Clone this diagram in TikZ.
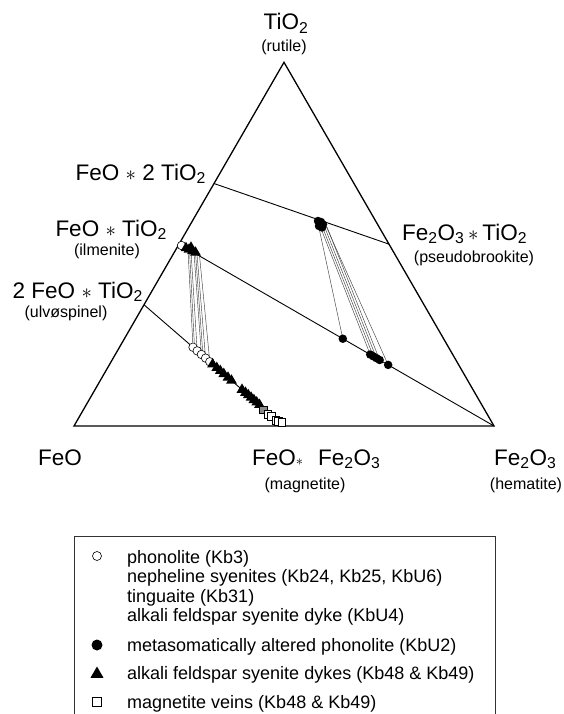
\documentclass[tikz,border=0pt]{standalone}
\usepackage{fontspec}
\setmainfont{Liberation Sans}
\usetikzlibrary{shapes.geometric,calc}
\newcommand{\dn}[1]{\textsubscript{#1}}
\newcommand{\mstar}{$\ast$}
\begin{document}
\begin{tikzpicture}[x=1pt,y=-1pt,
  big/.style={font=\fontsize{22.5}{26}\selectfont, inner sep=0pt},
  small/.style={font=\fontsize{16}{19}\selectfont, inner sep=0pt},
  leg/.style={font=\fontsize{18}{20}\selectfont, inner sep=0pt, anchor=base west},
  edgeline/.style={line width=1.3pt},
  joinline/.style={line width=0.9pt},
  tie/.style={line width=0.45pt, draw=black!75},
  oc/.style={circle, draw, fill=white, inner sep=0pt, minimum size=8.5pt, line width=0.6pt},
  fc/.style={circle, fill=black, inner sep=0pt, minimum size=8.5pt},
  tri/.style={regular polygon, regular polygon sides=3, fill=black, inner sep=0pt, minimum size=12.5pt},
  sq/.style={rectangle, draw, fill=white, inner sep=0pt, minimum size=7.5pt, line width=0.6pt},
  sqg/.style={sq, fill=black!45},
]
\useasboundingbox (0,0) rectangle (564,714);
% corners
\coordinate (F) at (74,426);
\coordinate (H) at (494,426);
\coordinate (T) at (284,62.3);
% edge points
\coordinate (P2) at ($(F)!0.6667!(T)$);
\coordinate (Ilm) at ($(F)!0.5!(T)$);
\coordinate (Ulv) at ($(F)!0.3333!(T)$);
\coordinate (Psb) at ($(H)!0.5!(T)$);
\coordinate (Mag) at ($(F)!0.5!(H)$);
% frame and joins
\draw[edgeline, line join=miter] (F) -- (T) -- (H) -- cycle;
\draw[joinline] (P2) -- (Psb);
\draw[joinline] (Ilm) -- (H);
\draw[joinline] (Ulv) -- (Mag);

% ---- left group: ilmenite cluster tied to host rocks
\coordinate (ta) at (188,250);
\coordinate (tb) at (191,251.5);
\coordinate (tc) at (194,253);
\coordinate (td) at (197,254);
\coordinate (te) at (199.5,255.5);
\coordinate (c1) at ($(Ulv)!0.35!(Mag)$);
\coordinate (c2) at ($(Ulv)!0.38!(Mag)$);
\coordinate (c3) at ($(Ulv)!0.41!(Mag)$);
\coordinate (c4) at ($(Ulv)!0.44!(Mag)$);
\coordinate (c5) at ($(Ulv)!0.47!(Mag)$);
\draw[tie] (ta) -- (c1);
\draw[tie] (tb) -- (c2);
\draw[tie] (tc) -- (c3);
\draw[tie] (td) -- (c4);
\draw[tie] (te) -- (c5);
\draw[tie] ($(ta)+(1.5,0)$) -- ($(c1)+(1.5,0)$);
\draw[tie] ($(tc)+(1.5,0)$) -- ($(c3)+(1.5,0)$);

\node[oc] (ilmc) at (181.5,245.5) {};
\node[tri] (ilt1) at (186,248) {};
\node[tri] (ilt2) at (189,249.5) {};
\node[tri] (ilt3) at (191,247.5) {};
\node[tri] (ilt4) at (192.5,251) {};
\node[tri] (ilt5) at (195.5,252.5) {};
\node[oc] (oc1) at (c1) {};
\node[oc] (oc2) at (c2) {};
\node[oc] (oc3) at (c3) {};
\node[oc] (oc4) at (c4) {};
\node[oc] (oc5) at (c5) {};
% triangles along the ulvospinel-magnetite join
\foreach \s [count=\i] in {0.49,0.52,0.545,0.57,0.6,0.625,0.70,0.725,0.745,0.765,0.785,0.805,0.825}
  \node[tri] (mt\i) at ($(Ulv)!\s!(Mag)$) {};
% magnetite veins
\node[sqg] (sq1) at ($(Ulv)!0.865!(Mag)+(-2,0)$) {};
\node[sq] (sq2) at ($(Ulv)!0.885!(Mag)+(0,2)$) {};
\node[sq] (sq3) at ($(Ulv)!0.91!(Mag)+(0,1)$) {};
\node[sq] (sq4) at ($(Ulv)!0.935!(Mag)+(1,2)$) {};
\node[sq] (sq5) at ($(Ulv)!0.96!(Mag)+(0,0)$) {};
\node[sq] (sq6) at ($(Ulv)!0.985!(Mag)+(0,-2)$) {};

% ---- right group: altered phonolite
\coordinate (ra) at (319,228);
\coordinate (rb) at (321,228.5);
\coordinate (rc) at (323,228.5);
\coordinate (rd) at (325,228);
\coordinate (re) at (327,227);
\coordinate (rf) at (326,226);
\coordinate (b1) at ($(Ilm)!0.52!(H)$);
\coordinate (b2) at ($(Ilm)!0.607!(H)$);
\coordinate (b3) at ($(Ilm)!0.617!(H)$);
\coordinate (b4) at ($(Ilm)!0.627!(H)$);
\coordinate (b5) at ($(Ilm)!0.637!(H)$);
\coordinate (b6) at ($(Ilm)!0.664!(H)$);
\draw[tie] (ra) -- (b1);
\draw[tie] (rb) -- (b2);
\draw[tie] (rc) -- (b3);
\draw[tie] (rd) -- (b4);
\draw[tie] (re) -- (b5);
\draw[tie] (rf) -- (b6);
\node[fc] (pb1) at (318,221) {};
\node[fc] (pb2) at (321,222) {};
\node[fc] (pb3) at (323,224.5) {};
\node[fc] (pb4) at (319,226) {};
\node[fc] (pb5) at (322,227.5) {};
\node[fc] (pb6) at (320,224) {};
\node[fc] (hb1) at (b1) {};
\node[fc] (hb2) at (b2) {};
\node[fc] (hb3) at (b3) {};
\node[fc] (hb4) at (b4) {};
\node[fc] (hb5) at (b5) {};
\node[fc] (hb6) at (b6) {};

% ---- labels
\node[big, anchor=base] (lT) at (286,30) {TiO\dn{2}};
\node[small, anchor=base] (lTr) at (284,52) {(rutile)};
\node[big, anchor=base east] (lP2) at (206,180) {FeO \mstar\ 2 TiO\dn{2}};
\node[big, anchor=base east] (lIlm) at (167,236) {FeO \mstar\ TiO\dn{2}};
\node[small, anchor=base] (lIlmn) at (107,255) {(ilmenite)};
\node[big, anchor=base east] (lUlv) at (143,298) {2 FeO \mstar\ TiO\dn{2}};
\node[small, anchor=base] (lUlvn) at (66,317) {(ulvøspinel)};
\node[big, anchor=base west] (lPsb) at (402,240) {Fe\dn{2}O\dn{3}\,\mstar\,TiO\dn{2}};
\node[small, anchor=base] (lPsbn) at (474,262) {(pseudobrookite)};
\node[big, anchor=base west] (lF) at (38,465) {FeO};
\node[big, anchor=base west] (lM) at (252,465) {FeO{\fontsize{15}{15}\selectfont\mstar}\hspace{15pt}Fe\dn{2}O\dn{3}};
\node[small, anchor=base] (lMn) at (305,489) {(magnetite)};
\node[big, anchor=base west] (lH) at (494,465) {Fe\dn{2}O\dn{3}};
\node[small, anchor=base] (lHn) at (526,489) {(hematite)};

% ---- legend
\draw[line width=0.8pt, black!80] (74,714) -- (74,536) -- (495,536) -- (495,714);
\node[oc, minimum size=9pt] (k1) at (97,556) {};
\node[fc, minimum size=11pt] (k2) at (97,645) {};
\node[tri, minimum size=15pt] (k3) at (97,674) {};
\node[sq, minimum size=9.5pt] (k4) at (97,702) {};
\node[leg] (t1) at (127,563) {phonolite (Kb3)};
\node[leg] (t2) at (127,582.5) {nepheline syenites (Kb24, Kb25, KbU6)};
\node[leg] (t3) at (127,602) {tinguaite (Kb31)};
\node[leg] (t4) at (127,621.5) {alkali feldspar syenite dyke (KbU4)};
\node[leg] (t5) at (127,651) {metasomatically altered phonolite (KbU2)};
\node[leg] (t6) at (127,679.5) {alkali feldspar syenite dykes (Kb48 \& Kb49)};
\node[leg] (t7) at (127,708) {magnetite veins (Kb48 \& Kb49)};
\end{tikzpicture}
\end{document}
